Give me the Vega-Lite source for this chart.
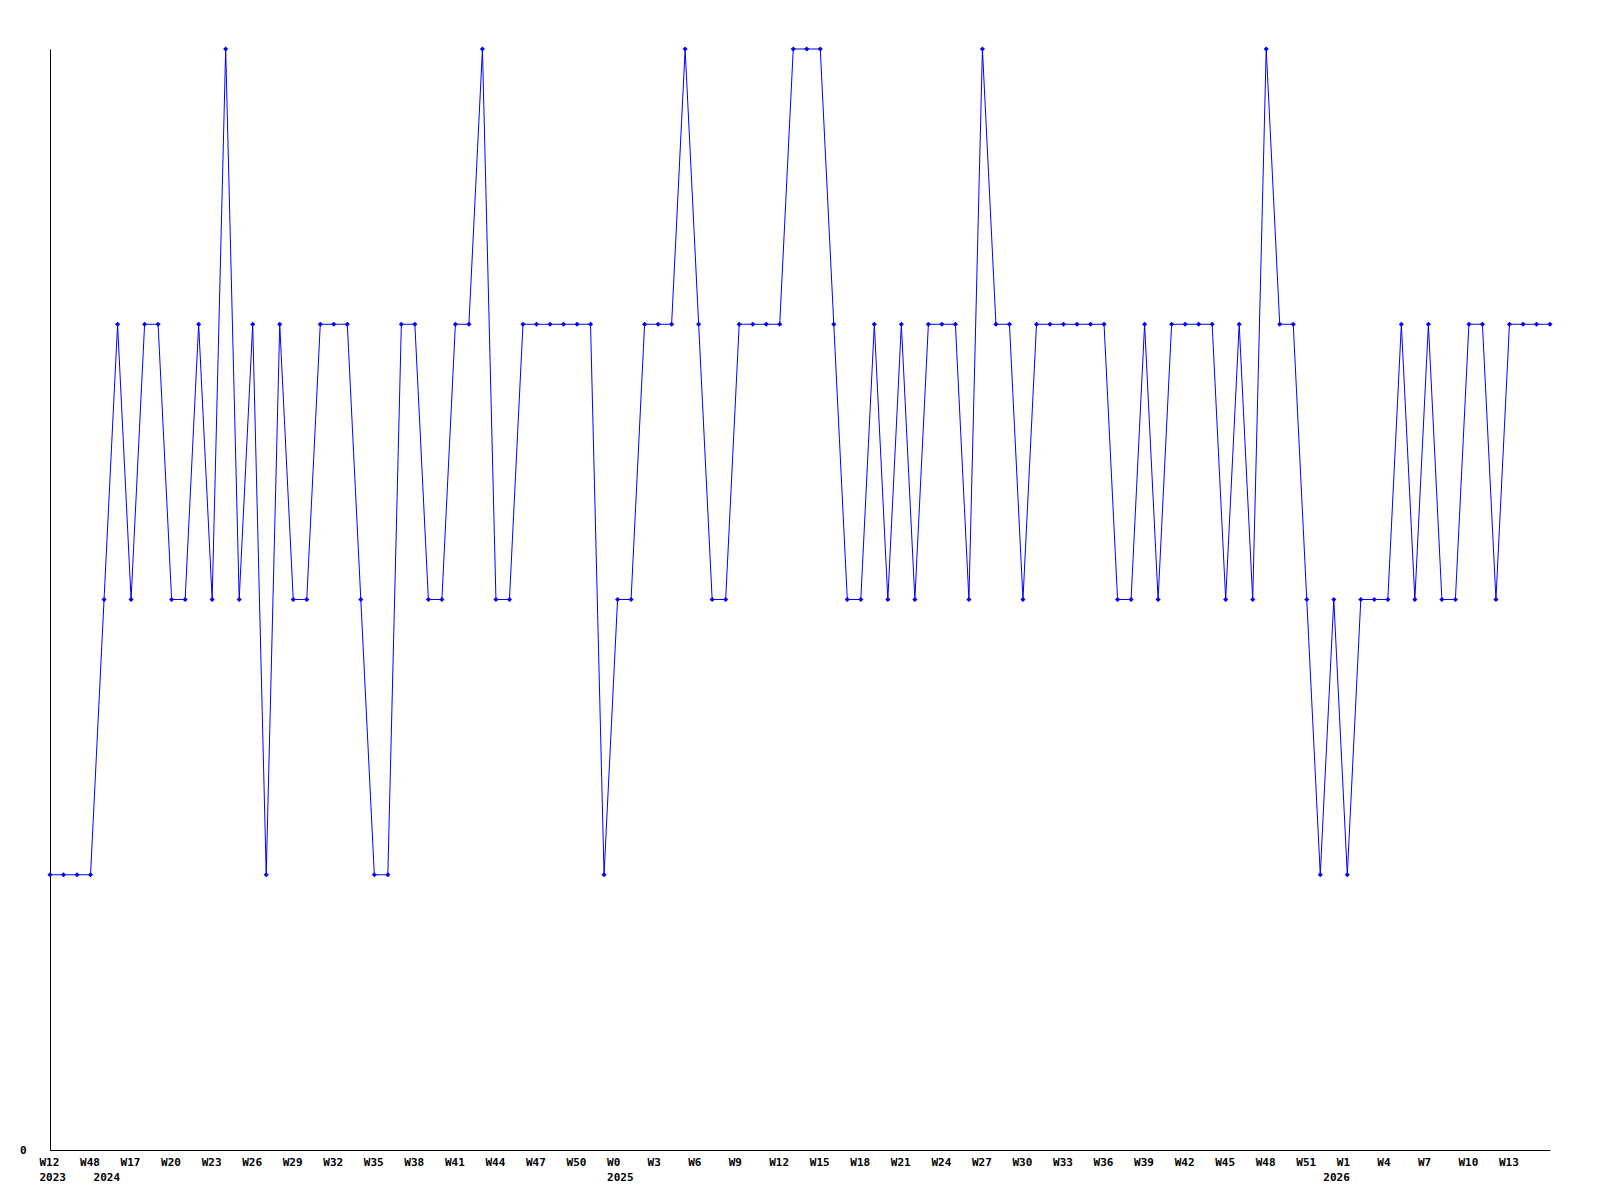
{
  "$schema": "https://vega.github.io/schema/vega-lite/v6.json",
  "width": 1500,
  "height": 1101,
  "autosize": {"type": "none"},
  "padding": {"left": 50, "top": 49, "right": 50, "bottom": 50},
  "background": "white",
  "config": {"view": {"stroke": null}},
  "data": {"values": [
    {"i":0,"v":1},{"i":1,"v":1},{"i":2,"v":1},{"i":3,"v":1},{"i":4,"v":2},{"i":5,"v":3},{"i":6,"v":2},{"i":7,"v":3},{"i":8,"v":3},{"i":9,"v":2},
    {"i":10,"v":2},{"i":11,"v":3},{"i":12,"v":2},{"i":13,"v":4},{"i":14,"v":2},{"i":15,"v":3},{"i":16,"v":1},{"i":17,"v":3},{"i":18,"v":2},{"i":19,"v":2},
    {"i":20,"v":3},{"i":21,"v":3},{"i":22,"v":3},{"i":23,"v":2},{"i":24,"v":1},{"i":25,"v":1},{"i":26,"v":3},{"i":27,"v":3},{"i":28,"v":2},{"i":29,"v":2},
    {"i":30,"v":3},{"i":31,"v":3},{"i":32,"v":4},{"i":33,"v":2},{"i":34,"v":2},{"i":35,"v":3},{"i":36,"v":3},{"i":37,"v":3},{"i":38,"v":3},{"i":39,"v":3},
    {"i":40,"v":3},{"i":41,"v":1},{"i":42,"v":2},{"i":43,"v":2},{"i":44,"v":3},{"i":45,"v":3},{"i":46,"v":3},{"i":47,"v":4},{"i":48,"v":3},{"i":49,"v":2},
    {"i":50,"v":2},{"i":51,"v":3},{"i":52,"v":3},{"i":53,"v":3},{"i":54,"v":3},{"i":55,"v":4},{"i":56,"v":4},{"i":57,"v":4},{"i":58,"v":3},{"i":59,"v":2},
    {"i":60,"v":2},{"i":61,"v":3},{"i":62,"v":2},{"i":63,"v":3},{"i":64,"v":2},{"i":65,"v":3},{"i":66,"v":3},{"i":67,"v":3},{"i":68,"v":2},{"i":69,"v":4},
    {"i":70,"v":3},{"i":71,"v":3},{"i":72,"v":2},{"i":73,"v":3},{"i":74,"v":3},{"i":75,"v":3},{"i":76,"v":3},{"i":77,"v":3},{"i":78,"v":3},{"i":79,"v":2},
    {"i":80,"v":2},{"i":81,"v":3},{"i":82,"v":2},{"i":83,"v":3},{"i":84,"v":3},{"i":85,"v":3},{"i":86,"v":3},{"i":87,"v":2},{"i":88,"v":3},{"i":89,"v":2},
    {"i":90,"v":4},{"i":91,"v":3},{"i":92,"v":3},{"i":93,"v":2},{"i":94,"v":1},{"i":95,"v":2},{"i":96,"v":1},{"i":97,"v":2},{"i":98,"v":2},{"i":99,"v":2},
    {"i":100,"v":3},{"i":101,"v":2},{"i":102,"v":3},{"i":103,"v":2},{"i":104,"v":2},{"i":105,"v":3},{"i":106,"v":3},{"i":107,"v":2},{"i":108,"v":3},{"i":109,"v":3},
    {"i":110,"v":3},{"i":111,"v":3}
  ]},
  "encoding": {
    "x": {
      "field": "i",
      "type": "quantitative",
      "scale": {"domain": [0, 111], "nice": false, "zero": false},
      "axis": {
        "title": null,
        "values": [0,3,4,6,9,12,15,18,21,24,27,30,33,36,39,42,45,48,51,54,57,60,63,66,69,72,75,78,81,84,87,90,93,95,96,99,102,105,108],
        "labelExpr": "({'0':['W12','2023'],'3':'W48','4':[' ','2024'],'6':'W17','9':'W20','12':'W23','15':'W26','18':'W29','21':'W32','24':'W35','27':'W38','30':'W41','33':'W44','36':'W47','39':'W50','42':['W0','2025'],'45':'W3','48':'W6','51':'W9','54':'W12','57':'W15','60':'W18','63':'W21','66':'W24','69':'W27','72':'W30','75':'W33','78':'W36','81':'W39','84':'W42','87':'W45','90':'W48','93':'W51','95':[' ','2026'],'96':'W1','99':'W4','102':'W7','105':'W10','108':'W13'})[datum.value]",
        "labelOverlap": false,
        "labelFlush": false,
        "labelBound": false,
        "labelAlign": "left",
        "labelOffset": -11,
        "labelBaseline": "top",
        "labelPadding": 6,
        "labelLineHeight": 15,
        "ticks": false,
        "grid": false,
        "domainColor": "#000000",
        "domainWidth": 1,
        "labelColor": "#000000",
        "labelFont": "DejaVu Sans Mono",
        "labelFontWeight": "bold",
        "labelFontSize": 11
      }
    },
    "y": {
      "field": "v",
      "type": "quantitative",
      "scale": {"domain": [0, 4], "nice": false, "zero": true},
      "axis": {
        "title": null,
        "values": [0],
        "ticks": false,
        "grid": false,
        "domainColor": "#000000",
        "domainWidth": 1,
        "labelPadding": 24,
        "labelBaseline": "middle",
        "labelColor": "#000000",
        "labelFont": "DejaVu Sans Mono",
        "labelFontWeight": "bold",
        "labelFontSize": 11
      }
    }
  },
  "layer": [
    {"mark": {"type": "line", "color": "#0000ff", "strokeWidth": 1}},
    {"mark": {"type": "point", "shape": "diamond", "filled": true, "color": "#0000ff", "size": 26, "opacity": 1}}
  ]
}
